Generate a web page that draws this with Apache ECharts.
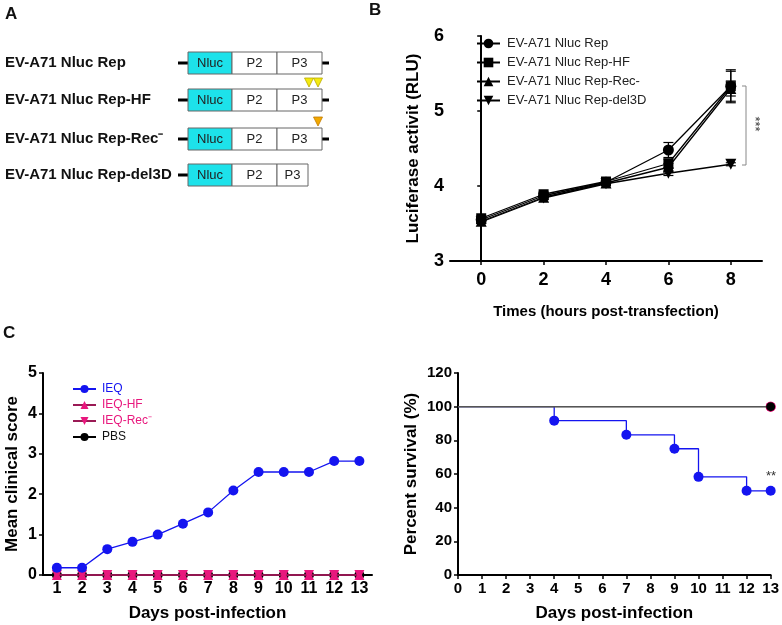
<!DOCTYPE html>
<html><head><meta charset="utf-8">
<script src="https://cdn.jsdelivr.net/npm/echarts@6/dist/echarts.min.js"></script>
<style>html,body{margin:0;padding:0;background:#fff}#c{width:782px;height:625px}</style>
</head><body><div id="c"></div>
<script>
// ---------- Panel A (schematic) ----------
const constructNames = ['EV-A71 Nluc Rep', 'EV-A71 Nluc Rep-HF', 'EV-A71 Nluc Rep-Rec⁻', 'EV-A71 Nluc Rep-del3D'];
const segmentNames = ['Nluc', 'P2', 'P3'];

// ---------- Panel B ----------
const hoursB = [0, 2, 4, 6, 8];
const bSeriesNames = ['EV-A71 Nluc Rep', 'EV-A71 Nluc Rep-HF', 'EV-A71 Nluc Rep-Rec-', 'EV-A71 Nluc Rep-del3D'];
const repVals = [3.55, 3.87, 4.05, 4.48, 5.33];
const hfVals  = [3.57, 3.89, 4.06, 4.30, 5.33];
const recVals = [3.53, 3.85, 4.04, 4.25, 5.30];
const delVals = [3.52, 3.84, 4.03, 4.17, 4.29];
const repErr  = [0.03, 0.03, 0.03, 0.10, 0.20];
const hfErr   = [0.03, 0.03, 0.03, 0.06, 0.22];
const recErr  = [0.03, 0.03, 0.03, 0.05, 0.10];
const delErr  = [0.02, 0.02, 0.02, 0.03, 0.02];
const bTicksX = [0, 2, 4, 6, 8];

// ---------- Panel C left ----------
const daysC = [1, 2, 3, 4, 5, 6, 7, 8, 9, 10, 11, 12, 13];
const cNames = ['IEQ', 'IEQ-HF', 'IEQ-Rec⁻', 'PBS'];
const ieqScore = [0.18, 0.18, 0.64, 0.82, 1.00, 1.27, 1.55, 2.09, 2.55, 2.55, 2.55, 2.82, 2.82];
const hfScore  = [0, 0, 0, 0, 0, 0, 0, 0, 0, 0, 0, 0, 0];
const recScore = [0, 0, 0, 0, 0, 0, 0, 0, 0, 0, 0, 0, 0];
const pbsScore = [0, 0, 0, 0, 0, 0, 0, 0, 0, 0, 0, 0, 0];

// ---------- Panel C right (survival) ----------
const survDaysIEQ = [0, 4, 7, 9, 10, 12, 13];
const survIEQ = [100, 91.7, 83.3, 75, 58.3, 50, 50];
const survDaysCtrl = [0, 13];
const survHF = [100, 100];
const survRec = [100, 100];
const survPBS = [100, 100];

const FONT = 'Liberation Sans, Arial, sans-serif';
const BLUE = '#1414f0';
const PINK = '#e8177d';
const DOWN_TRI = 'path://M0,0 L10,0 L5,9 Z';

const chart = echarts.init(document.getElementById('c'), null, {renderer: 'canvas'});

function zip(xs, ys) { return xs.map((x, i) => [x, ys[i]]); }

// Panel A graphics
const graphics = [];
const rowTops = [52, 89, 128, 164];
const segX = [188, 232, 277, 322];
constructNames.forEach((name, r) => {
  const top = rowTops[r];
  const cy = top + 11;
  graphics.push({type: 'text', x: 5, y: cy, style: {text: name, font: 'bold 15px ' + FONT, fill: '#111', verticalAlign: 'middle'}});
  graphics.push({type: 'line', shape: {x1: 178, y1: cy, x2: 188, y2: cy}, style: {stroke: '#000', lineWidth: 3}});
  const ends = r === 3 ? [188, 232, 277, 308] : segX;
  if (r !== 3) graphics.push({type: 'line', shape: {x1: 322, y1: cy, x2: 329, y2: cy}, style: {stroke: '#000', lineWidth: 3}});
  segmentNames.forEach((s, k) => {
    graphics.push({type: 'rect', shape: {x: ends[k], y: top, width: ends[k + 1] - ends[k], height: 22},
      style: {fill: k === 0 ? '#1de2ea' : '#fff', stroke: '#666', lineWidth: 1}});
    graphics.push({type: 'text', x: (ends[k] + ends[k + 1]) / 2, y: cy,
      style: {text: s, font: '13px ' + FONT, fill: '#222', align: 'center', verticalAlign: 'middle'}});
  });
});
// mutation markers
[[309, 78, '#f4ea10', '#b8a800'], [318, 78, '#f4ea10', '#b8a800'], [318, 117, '#f2a900', '#c07a00']].forEach(t => {
  graphics.push({type: 'polygon', shape: {points: [[t[0] - 4.5, t[1]], [t[0] + 4.5, t[1]], [t[0], t[1] + 9]]},
    style: {fill: t[2], stroke: t[3], lineWidth: 0.8}});
});
// panel letters
graphics.push({type: 'text', left: 5, top: 6, style: {text: 'A', font: 'bold 17px ' + FONT, fill: '#111'}});
graphics.push({type: 'text', left: 369, top: 2, style: {text: 'B', font: 'bold 17px ' + FONT, fill: '#111'}});
graphics.push({type: 'text', left: 3, top: 325, style: {text: 'C', font: 'bold 17px ' + FONT, fill: '#111'}});
// significance bracket B
graphics.push({type: 'polyline', shape: {points: [[742, 86], [746, 86], [746, 165], [742, 165]]}, style: {stroke: '#888', lineWidth: 1, fill: null}});
graphics.push({type: 'text', x: 755, y: 124, rotation: -Math.PI / 2,
  style: {text: '***', font: '13px ' + FONT, fill: '#333', align: 'center', verticalAlign: 'middle'}});
// ** on survival
graphics.push({type: 'text', x: 771, y: 476, style: {text: '**', font: '13px ' + FONT, fill: '#333', align: 'center', verticalAlign: 'middle'}});

const axisLineStyle = {lineStyle: {color: '#000', width: 2}};
function tickLabel(sz) { return {color: '#000', fontFamily: FONT, fontWeight: 'bold', fontSize: sz}; }
function nameStyle(sz) { return {color: '#000', fontFamily: FONT, fontWeight: 'bold', fontSize: sz}; }

function errSeries(name, vals, errs, xi, yi) {
  return {
    type: 'custom', name: name + ' err', xAxisIndex: xi, yAxisIndex: yi, silent: true, z: 3,
    data: hoursB.map((h, i) => [h, vals[i] - errs[i], vals[i] + errs[i]]),
    renderItem: function (params, api) {
      const lo = api.coord([api.value(0), api.value(1)]);
      const hi = api.coord([api.value(0), api.value(2)]);
      const w = 5;
      return {type: 'group', children: [
        {type: 'line', shape: {x1: lo[0], y1: lo[1], x2: hi[0], y2: hi[1]}, style: {stroke: '#000', lineWidth: 1.2}},
        {type: 'line', shape: {x1: lo[0] - w, y1: lo[1], x2: lo[0] + w, y2: lo[1]}, style: {stroke: '#000', lineWidth: 1.2}},
        {type: 'line', shape: {x1: hi[0] - w, y1: hi[1], x2: hi[0] + w, y2: hi[1]}, style: {stroke: '#000', lineWidth: 1.2}}
      ]};
    }
  };
}

const bSymbols = ['circle', 'rect', 'triangle', DOWN_TRI];
const bVals = [repVals, hfVals, recVals, delVals];
const bErrs = [repErr, hfErr, recErr, delErr];

const series = [];
bVals.forEach((v, k) => {
  series.push(errSeries(bSeriesNames[k], v, bErrs[k], 0, 0));
  series.push({type: 'line', name: bSeriesNames[k], xAxisIndex: 0, yAxisIndex: 0, data: zip(hoursB, v),
    symbol: bSymbols[k], symbolSize: k === 1 ? 10 : 11, showSymbol: true, clip: false,
    lineStyle: {color: '#000', width: 1.3}, itemStyle: {color: '#000'}, z: 4});
});

// C left
const cVals = [pbsScore, hfScore, recScore, ieqScore];
const cOrderNames = ['PBS', 'IEQ-HF', 'IEQ-Rec⁻', 'IEQ'];
const cColors = ['#000', PINK, PINK, BLUE];
const cSyms = ['circle', 'triangle', DOWN_TRI, 'circle'];
cVals.forEach((v, k) => {
  series.push({type: 'line', name: cOrderNames[k], xAxisIndex: 1, yAxisIndex: 1, data: zip(daysC, v),
    symbol: cSyms[k], symbolSize: 10, clip: false,
    lineStyle: {color: k === 1 || k === 2 ? '#9a1a55' : cColors[k], width: 1.3},
    itemStyle: {color: cColors[k]}, z: 4 + k});
});

// C right survival
[[survPBS, '#000', 'PBS surv'], [survHF, PINK, 'HF surv'], [survRec, PINK, 'Rec surv']].forEach((s, k) => {
  series.push({type: 'line', name: s[2], xAxisIndex: 2, yAxisIndex: 2, clip: false,
    data: survDaysCtrl.map((d, i) => ({value: [d, s[0][i]], symbol: i === 0 ? 'none' : 'circle'})),
    symbolSize: k === 0 ? 9 : 10, lineStyle: {color: '#555', width: 1.3}, itemStyle: {color: s[1]}, z: 6 - k});
});
series.push({type: 'line', name: 'IEQ surv', xAxisIndex: 2, yAxisIndex: 2, step: 'end', clip: false,
  data: survDaysIEQ.map((d, i) => ({value: [d, survIEQ[i]], symbol: i === 0 ? 'none' : 'circle'})),
  symbolSize: 10, lineStyle: {color: BLUE, width: 1.3}, itemStyle: {color: BLUE}, z: 3});

const option = {
  animation: false,
  backgroundColor: '#fff',
  graphic: graphics,
  legend: [
    {data: bSeriesNames, orient: 'vertical', left: 471, top: 32, itemWidth: 23, itemHeight: 12, itemGap: 6,
      textStyle: {fontFamily: FONT, fontSize: 13, color: '#222', padding: [0, 0, 0, 2]}, selectedMode: false},
    {data: [
      {name: 'IEQ', textStyle: {color: BLUE}},
      {name: 'IEQ-HF', textStyle: {color: PINK}},
      {name: 'IEQ-Rec⁻', textStyle: {color: PINK}},
      {name: 'PBS', textStyle: {color: '#111'}}],
      orient: 'vertical', left: 67, top: 378, itemWidth: 23, itemHeight: 10, itemGap: 4,
      textStyle: {fontFamily: FONT, fontSize: 12, padding: [0, 0, 0, 1]}, selectedMode: false}
  ],
  grid: [
    {left: 450, top: 36, width: 312, height: 225},
    {left: 43, top: 373, width: 329, height: 202},
    {left: 458, top: 373, width: 313, height: 202}
  ],
  xAxis: [
    {gridIndex: 0, type: 'value', min: -1, max: 9, splitLine: {show: false}, axisLine: axisLineStyle,
      axisTick: {customValues: bTicksX, length: 4, lineStyle: {color: '#000', width: 1.5}},
      axisLabel: Object.assign({customValues: bTicksX, margin: 10}, tickLabel(18)),
      name: 'Times (hours post-transfection)', nameLocation: 'middle', nameGap: 43, nameTextStyle: nameStyle(15)},
    {gridIndex: 1, type: 'value', min: 0.45, max: 13.5, splitLine: {show: false}, axisLine: axisLineStyle,
      axisTick: {customValues: daysC, length: 4, lineStyle: {color: '#000', width: 1.5}},
      axisLabel: Object.assign({customValues: daysC, margin: 6}, tickLabel(16)),
      name: 'Days post-infection', nameLocation: 'middle', nameGap: 30, nameTextStyle: nameStyle(17)},
    {gridIndex: 2, type: 'value', min: 0, max: 13, interval: 1, splitLine: {show: false}, axisLine: axisLineStyle,
      axisTick: {length: 4, lineStyle: {color: '#000', width: 1.5}},
      axisLabel: Object.assign({margin: 6}, tickLabel(15)),
      name: 'Days post-infection', nameLocation: 'middle', nameGap: 30, nameTextStyle: nameStyle(17)}
  ],
  yAxis: [
    {gridIndex: 0, type: 'value', min: 3, max: 6, interval: 1, splitLine: {show: false}, axisLine: axisLineStyle,
      axisTick: {length: 4, lineStyle: {color: '#000', width: 1.5}},
      axisLabel: Object.assign({margin: 6}, tickLabel(18)),
      name: 'Luciferase activit (RLU)', nameLocation: 'middle', nameGap: 28, nameTextStyle: nameStyle(17)},
    {gridIndex: 1, type: 'value', min: 0, max: 5, interval: 1, splitLine: {show: false}, axisLine: axisLineStyle,
      axisTick: {length: 4, lineStyle: {color: '#000', width: 1.5}},
      axisLabel: Object.assign({margin: 6}, tickLabel(16)),
      name: 'Mean clinical score', nameLocation: 'middle', nameGap: 22, nameTextStyle: nameStyle(17)},
    {gridIndex: 2, type: 'value', min: 0, max: 120, interval: 20, splitLine: {show: false}, axisLine: axisLineStyle,
      axisTick: {length: 4, lineStyle: {color: '#000', width: 1.5}},
      axisLabel: Object.assign({margin: 6}, tickLabel(15)),
      name: 'Percent survival (%)', nameLocation: 'middle', nameGap: 38, nameTextStyle: nameStyle(17)}
  ],
  series: series
};
chart.setOption(option);
</script></body></html>
